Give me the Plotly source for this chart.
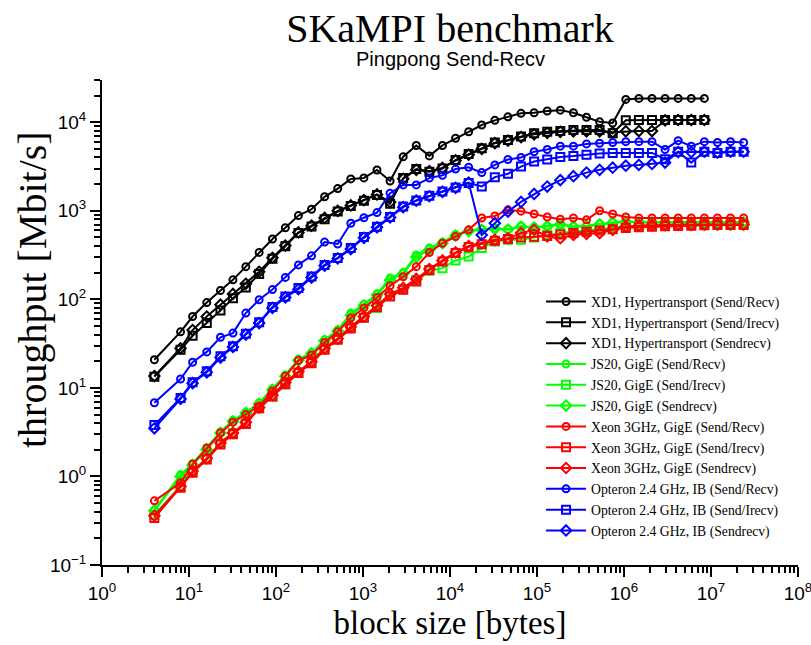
import math
import plotly.graph_objects as go

# block sizes (bytes)
sizes = [4, 8, 11, 16, 23, 32, 45, 64, 91, 128, 181, 256, 362, 512, 724, 1024, 1448, 2048,
         2896, 4096, 5793, 8192, 11585, 16384, 23170, 32768, 46341, 65536, 92682, 131072,
         185364, 262144, 370728, 524288, 741455, 1048576, 1482910, 2097152, 2965821,
         4194304, 5931642, 8388608, 11863283, 16777216, 23726566]

xd1_sendrecv = [20.8, 43, 64, 92, 126, 166, 234, 339, 481, 643, 883, 1040, 1440, 1780, 2290,
                2350, 2890, 2170, 4080, 5470, 4170, 5470, 6600, 7800, 9300, 10500, 11500, 12600,
                12800, 13400, 13700, 12800, 11400, 10100, 9800, 18100, 18600, 18600, 18600,
                18600, 18600, 18600]
xd1_irecv = [13.4, 27, 38.8, 54, 75, 103, 136, 193, 287, 397, 563, 665, 804, 980, 1135, 1300,
             1510, 1200, 2340, 2960, 2760, 3000, 3740, 4370, 5070, 5890, 6300, 6900, 7500, 7800,
             7950, 8200, 8200, 8200, 7500, 10500, 10600, 10600, 10600, 10600, 10600, 10600]
xd1_sendrecv2 = [13.6, 28, 45, 64, 87, 115, 150, 205, 295, 405, 570, 680, 830, 1000, 1150, 1320,
                 1530, 1250, 2300, 2900, 2800, 3050, 3700, 4300, 5000, 5800, 6200, 6800, 7300,
                 7600, 7800, 7900, 7900, 7900, 7700, 7900, 7950, 7950, 10500, 10600, 10600, 10600]

js20_sendrecv = [0.42, 1.05, 1.4, 2.1, 3.2, 4.3, 5.3, 6.8, 9.8, 14, 21, 25, 35, 45, 70, 88, 115,
                 174, 200, 317, 380, 440, 540, 600, 620, 635, 620, 675, 650, 675, 710, 665, 675,
                 710, 740, 760, 740, 745, 745, 745, 745, 745, 745, 745, 745]
js20_irecv = [0.37, 0.78, 1.15, 1.6, 2.35, 3.1, 4.0, 5.9, 8, 11, 15, 19.5, 27.5, 36, 48, 62, 80,
              110, 130, 165, 210, 225, 275, 304, 380, 450, 470, 470, 500, 535, 560, 580, 600, 630,
              650, 670, 680, 690, 700, 700, 705, 705, 705, 705, 705]
js20_sendrecv2 = [0.41, 1.0, 1.35, 2.0, 3.1, 4.2, 5.2, 6.6, 9.5, 13.5, 20.5, 24.5, 34, 44, 66,
                  85, 112, 165, 195, 300, 365, 430, 525, 590, 610, 625, 615, 660, 645, 665, 700,
                  660, 670, 705, 735, 750, 740, 740, 740, 740, 740, 740, 740, 740, 740]

xeon_sendrecv = [0.53, 0.85, 1.37, 2.1, 3.1, 4.1, 5.0, 6.2, 9.2, 13.5, 20.4, 23.5, 32.6, 43,
                 61.5, 80, 105, 142, 180, 234, 338, 430, 513, 610, 830, 875, 1025, 990, 920,
                 850, 805, 830, 790, 1000, 920, 850, 830, 830, 830, 830, 830, 830, 830, 830, 830]
xeon_irecv = [0.34, 0.745, 1.1, 1.55, 2.3, 3.0, 3.9, 5.9, 8, 11, 14.7, 19, 27, 35, 47, 62, 82,
              108, 128, 159, 215, 268, 333, 390, 420, 460, 480, 500, 510, 520, 540, 560, 580, 600,
              620, 640, 650, 660, 670, 675, 680, 685, 690, 690, 690]
xeon_sendrecv2 = [0.36, 0.77, 1.15, 1.6, 2.4, 3.1, 4.1, 6.0, 8.3, 11.5, 15.3, 19.8, 28, 36, 49,
                  64, 85, 115, 135, 170, 220, 275, 340, 400, 430, 470, 490, 560, 610, 513, 490,
                  535, 550, 560, 610, 665, 680, 690, 690, 695, 695, 700, 700, 700, 700]

opt_sendrecv = [6.8, 12.6, 19.5, 25.5, 37.3, 41.6, 70, 99, 129, 177, 245, 310, 443, 422, 724,
                835, 955, 1580, 1960, 1960, 2340, 2520, 2960, 3100, 2700, 3300, 3800, 4000, 4650,
                4930, 5370, 5370, 5690, 5800, 5900, 6040, 6040, 6040, 4930, 6200, 5370, 6040,
                5900, 6040, 5900]
opt_irecv = [3.8, 7.7, 11.6, 15.4, 22.7, 29.5, 41, 55, 82, 108, 134, 181, 245, 294, 380, 505,
             660, 850, 1120, 1310, 1480, 1650, 1830, 2060, 1880, 2400, 2620, 3160, 3600, 3800,
             4040, 4150, 4300, 4450, 4500, 4500, 4500, 4500, 3820, 4650, 3500, 4650, 4500, 4650,
             4650]
opt_sendrecv2 = [3.5, 7.5, 11.3, 15, 22, 29, 40, 54, 80, 105, 130, 176, 240, 290, 370, 495, 650,
                 840, 1100, 1300, 1460, 1640, 1820, 2080, 534, 724, 980, 1260, 1550, 1880, 2220,
                 2460, 2700, 2900, 3070, 3230, 3300, 3380, 3500, 4600, 4600, 4650, 4550, 4650,
                 4650]

series = [
    ("XD1, Hypertransport (Send/Recv)", xd1_sendrecv, "#000000", "circle-open"),
    ("XD1, Hypertransport (Send/Irecv)", xd1_irecv, "#000000", "square-open"),
    ("XD1, Hypertransport (Sendrecv)", xd1_sendrecv2, "#000000", "diamond-open"),
    ("JS20, GigE (Send/Recv)", js20_sendrecv, "#00ff00", "circle-open"),
    ("JS20, GigE (Send/Irecv)", js20_irecv, "#00ff00", "square-open"),
    ("JS20, GigE (Sendrecv)", js20_sendrecv2, "#00ff00", "diamond-open"),
    ("Xeon 3GHz, GigE (Send/Recv)", xeon_sendrecv, "#ff0000", "circle-open"),
    ("Xeon 3GHz, GigE (Send/Irecv)", xeon_irecv, "#ff0000", "square-open"),
    ("Xeon 3GHz, GigE (Sendrecv)", xeon_sendrecv2, "#ff0000", "diamond-open"),
    ("Opteron 2.4 GHz, IB (Send/Recv)", opt_sendrecv, "#0000ff", "circle-open"),
    ("Opteron 2.4 GHz, IB (Send/Irecv)", opt_irecv, "#0000ff", "square-open"),
    ("Opteron 2.4 GHz, IB (Sendrecv)", opt_sendrecv2, "#0000ff", "diamond-open"),
]

x_tick_vals = [10 ** e for e in range(0, 9)]
x_tick_text = ["10<sup>%d</sup>" % e for e in range(0, 9)]
y_tick_vals = [10 ** e for e in range(-1, 5)]
y_tick_text = ["10<sup>%d</sup>" % e if e >= 0 else "10<sup>\u22121</sup>" for e in range(-1, 5)]
x_minor = [m * 10 ** e for e in range(0, 8) for m in range(2, 10)]
y_minor = [m * 10.0 ** e for e in range(-1, 5) for m in range(2, 10) if m * 10.0 ** e <= 3e4]

fig = go.Figure()
for name, vals, color, sym in series:
    size = 7 if sym == "circle-open" else 8
    fig.add_trace(go.Scatter(
        x=sizes[:len(vals)], y=vals, mode="lines+markers", name=name,
        line=dict(color=color, width=2),
        marker=dict(symbol=sym, size=size, color=color, line=dict(width=2, color=color)),
    ))

axis_common = dict(
    type="log", showline=True, linewidth=2, linecolor="black", mirror=False,
    showgrid=False, zeroline=False, ticks="outside", ticklen=10, tickwidth=2,
    tickcolor="black", tickmode="array", ticklabeloverflow="allow", automargin=False,
    tickfont=dict(family="Liberation Sans", size=19, color="black"),
)

fig.update_layout(
    width=811, height=645,
    margin=dict(l=102, r=13, t=80, b=80),
    paper_bgcolor="white", plot_bgcolor="white",
    showlegend=True,
    title=dict(text="SKaMPI benchmark", x=0.5, xref="paper", xanchor="center",
               y=1 - 28 / 645, yref="container", yanchor="middle", automargin=False,
               font=dict(family="Liberation Serif", size=40, color="black")),
    xaxis=dict(axis_common, range=[0, 8], tickvals=x_tick_vals, ticktext=x_tick_text,
               minor=dict(tickmode="array", tickvals=x_minor, ticks="outside", ticklen=6,
                          tickwidth=1.5, tickcolor="black", showgrid=False),
               title=dict(text="block size [bytes]", standoff=8,
                          font=dict(family="Liberation Serif", size=33, color="black"))),
    yaxis=dict(axis_common, range=[-1, math.log10(3e4)], tickvals=y_tick_vals,
               ticktext=y_tick_text,
               minor=dict(tickmode="array", tickvals=y_minor, ticks="outside", ticklen=6,
                          tickwidth=1.5, tickcolor="black", showgrid=False)),
    legend=dict(x=0.6308, xanchor="left", y=0.575, yanchor="top", itemwidth=40,
                bgcolor="rgba(0,0,0,0)", borderwidth=0,
                font=dict(family="Liberation Serif", size=13.7, color="black")),
    annotations=[
        dict(text="Pingpong Send-Recv", xref="paper", yref="paper", x=0.5, y=1 + 21 / 485,
             xanchor="center", yanchor="middle", showarrow=False,
             font=dict(family="Liberation Sans", size=20, color="black")),
        dict(text="throughput [Mbit/s]", xref="paper", yref="paper", x=-70 / 696,
             y=(565 - 290) / 485, xanchor="center", yanchor="middle", showarrow=False,
             textangle=-90, font=dict(family="Liberation Serif", size=40, color="black")),
    ],
)

fig.write_html("out.html")
